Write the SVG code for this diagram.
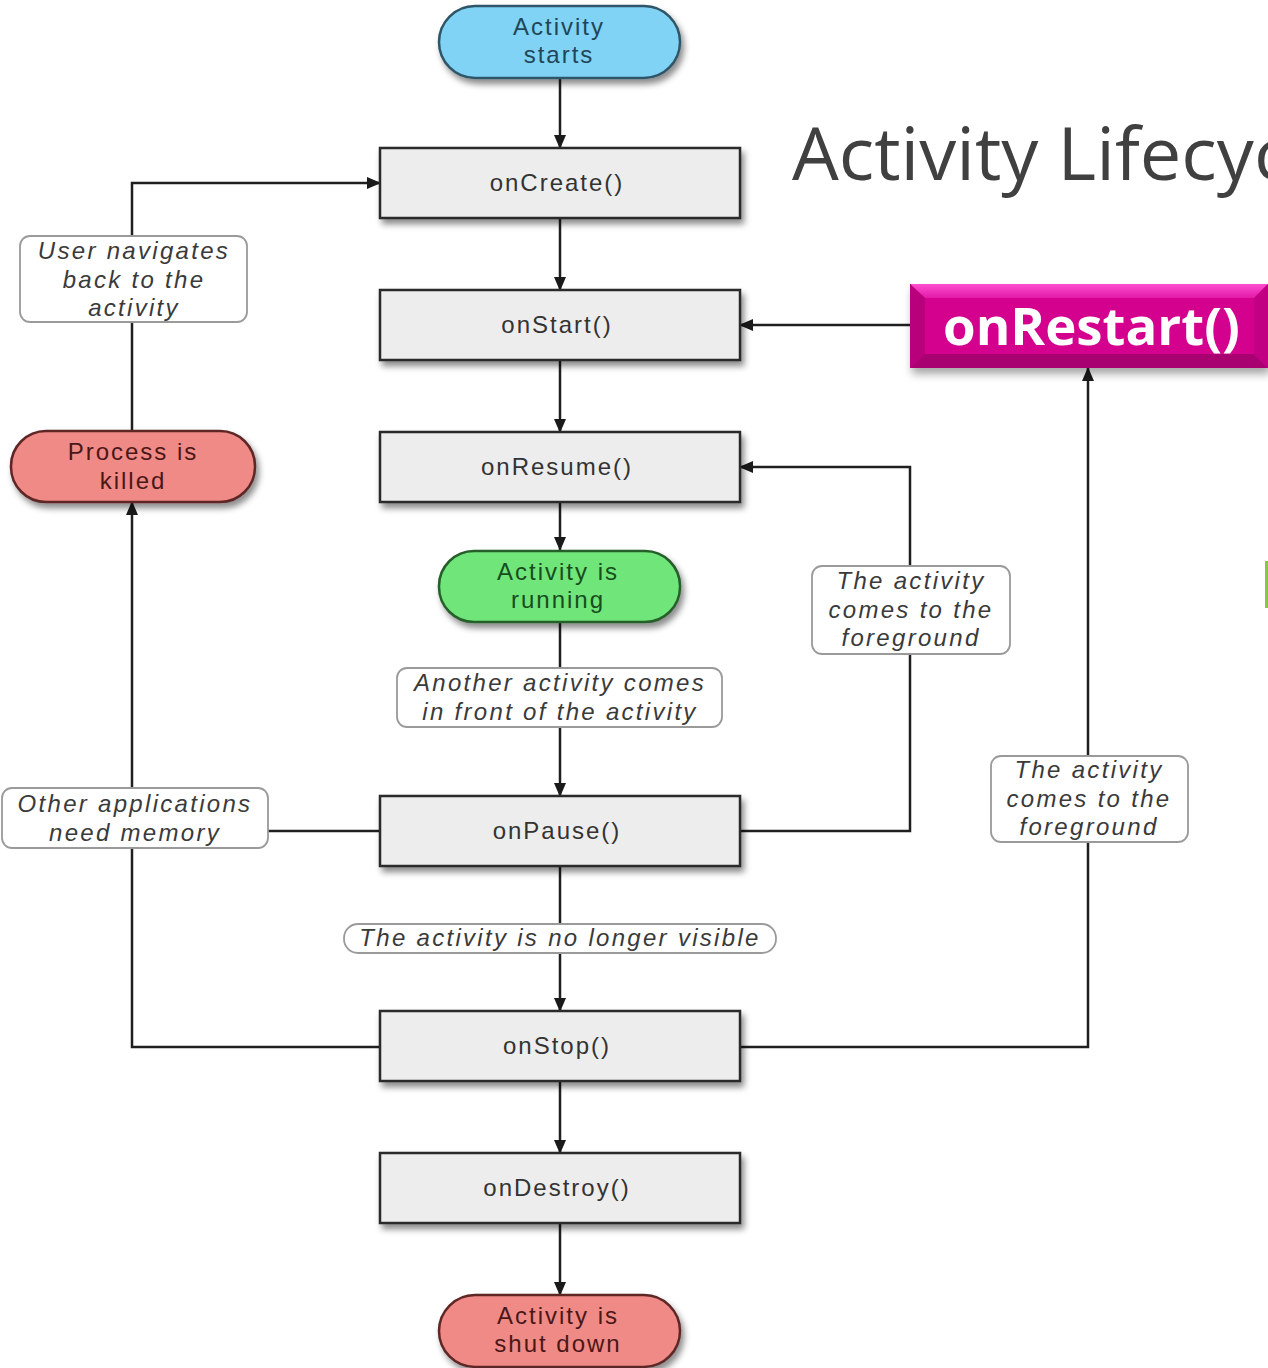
<svg xmlns="http://www.w3.org/2000/svg" width="1268" height="1368" viewBox="0 0 1268 1368">
  <defs>
    <filter id="shadow" x="-10%" y="-20%" width="125%" height="160%">
      <feDropShadow dx="3" dy="5" stdDeviation="3" flood-color="#000" flood-opacity="0.45"/>
    </filter>
    <filter id="softshadow" x="-10%" y="-20%" width="125%" height="160%">
      <feDropShadow dx="2" dy="6" stdDeviation="4" flood-color="#000" flood-opacity="0.35"/>
    </filter>
    <marker id="arrow" markerUnits="userSpaceOnUse" markerWidth="14" markerHeight="12" refX="13" refY="6" orient="auto">
      <path d="M0,0 L14,6 L0,12 z" fill="#1a1a1a"/>
    </marker>
    <linearGradient id="restartTop" x1="0" y1="0" x2="0" y2="1">
      <stop offset="0" stop-color="#ff4fd0"/>
      <stop offset="1" stop-color="#e21aa8"/>
    </linearGradient>
  </defs>
  <style>
    .box { fill: #ededed; stroke: #2b2b2b; stroke-width: 2.5; }
    .pill { stroke-width: 2.5; }
    .note { fill: #ffffff; stroke: #9a9a9a; stroke-width: 1.8; }
    .wire { fill: none; stroke: #1f1f1f; stroke-width: 2.5; }
    .t { font-family: "Liberation Sans", Arial, sans-serif; font-size: 24px; letter-spacing: 2px; text-anchor: middle; }
    .method { fill: #333333; }
    .it { font-style: italic; fill: #3a3a3a; letter-spacing: 2.3px; }
  </style>

  <rect width="1268" height="1368" fill="#ffffff"/>

  <!-- title -->
  <text x="792" y="180" font-family="'Open Sans', 'Noto Sans', sans-serif" font-size="74" fill="#404040">Activity Lifecycle</text>

  <!-- accent bar at right edge -->
  <rect x="1265" y="561" width="3" height="47" fill="#8dc63f"/>

  <!-- connectors -->
  <g id="connectors">
    <path class="wire" d="M560 78 V148" marker-end="url(#arrow)"/>
    <path class="wire" d="M560 218 V290" marker-end="url(#arrow)"/>
    <path class="wire" d="M560 360 V432" marker-end="url(#arrow)"/>
    <path class="wire" d="M560 502 V550" marker-end="url(#arrow)"/>
    <path class="wire" d="M560 622 V796" marker-end="url(#arrow)"/>
    <path class="wire" d="M560 866 V1011" marker-end="url(#arrow)"/>
    <path class="wire" d="M560 1081 V1153" marker-end="url(#arrow)"/>
    <path class="wire" d="M560 1223 V1295" marker-end="url(#arrow)"/>
    <!-- left side: memory pressure kills the process -->
    <path class="wire" d="M380 1047 H132 V502" marker-end="url(#arrow)"/>
    <path class="wire" d="M380 831 H132"/>
    <path class="wire" d="M132 430 V183 H380" marker-end="url(#arrow)"/>
    <!-- right side: back to foreground -->
    <path class="wire" d="M740 831 H910 V467 H740" marker-end="url(#arrow)"/>
    <path class="wire" d="M740 1047 H1088 V368" marker-end="url(#arrow)"/>
    <path class="wire" d="M910 325 H740" marker-end="url(#arrow)"/>
  </g>

  <!-- state pills -->
  <g id="activity-starts">
    <rect class="pill" x="439" y="6" width="241" height="72" rx="36" fill="#80d3f5" stroke="#2e5567" filter="url(#shadow)"/>
    <text class="t" x="559" y="35" fill="#1f4657">Activity</text>
    <text class="t" x="559" y="63" fill="#1f4657">starts</text>
  </g>

  <g id="process-killed">
    <rect class="pill" x="11" y="431" width="244" height="71" rx="35" fill="#f08a86" stroke="#5e2626" filter="url(#shadow)"/>
    <text class="t" x="133" y="460" fill="#4a1717">Process is</text>
    <text class="t" x="133" y="489" fill="#4a1717">killed</text>
  </g>

  <g id="activity-running">
    <rect class="pill" x="439" y="551" width="241" height="71" rx="35" fill="#6fe57a" stroke="#265e2b" filter="url(#shadow)"/>
    <text class="t" x="558" y="580" fill="#174d1c">Activity is</text>
    <text class="t" x="558" y="608" fill="#174d1c">running</text>
  </g>

  <g id="activity-shut-down">
    <rect class="pill" x="439" y="1295" width="241" height="72" rx="36" fill="#f08a86" stroke="#5e2626" filter="url(#shadow)"/>
    <text class="t" x="558" y="1324" fill="#4a1717">Activity is</text>
    <text class="t" x="558" y="1352" fill="#4a1717">shut down</text>
  </g>

  <!-- lifecycle callbacks -->
  <g id="on-create">
    <rect class="box" x="380" y="148" width="360" height="70" filter="url(#shadow)"/>
    <text class="t method" x="557" y="191">onCreate()</text>
  </g>
  <g id="on-start">
    <rect class="box" x="380" y="290" width="360" height="70" filter="url(#shadow)"/>
    <text class="t method" x="557" y="333">onStart()</text>
  </g>
  <g id="on-resume">
    <rect class="box" x="380" y="432" width="360" height="70" filter="url(#shadow)"/>
    <text class="t method" x="557" y="475">onResume()</text>
  </g>
  <g id="on-pause">
    <rect class="box" x="380" y="796" width="360" height="70" filter="url(#shadow)"/>
    <text class="t method" x="557" y="839">onPause()</text>
  </g>
  <g id="on-stop">
    <rect class="box" x="380" y="1011" width="360" height="70" filter="url(#shadow)"/>
    <text class="t method" x="557" y="1054">onStop()</text>
  </g>
  <g id="on-destroy">
    <rect class="box" x="380" y="1153" width="360" height="70" filter="url(#shadow)"/>
    <text class="t method" x="557" y="1196">onDestroy()</text>
  </g>

  <!-- highlighted restart callback -->
  <g id="on-restart" filter="url(#softshadow)">
    <rect x="910" y="284" width="358" height="84" fill="#d4008e"/>
    <polygon points="910,284 1268,284 1254,298 925,298" fill="url(#restartTop)"/>
    <polygon points="910,284 925,298 925,354 910,368" fill="#b8007c"/>
    <polygon points="910,368 925,354 1254,354 1268,368" fill="#a8006f"/>
    <polygon points="1268,284 1254,298 1254,354 1268,368" fill="#c20083"/>
    <text x="943" y="345" font-family="'Open Sans', 'Noto Sans', sans-serif" font-weight="700" font-size="52" fill="#ffffff" textLength="297" lengthAdjust="spacingAndGlyphs">onRestart()</text>
  </g>

  <!-- transition notes -->
  <g id="note-user-navigates">
    <rect class="note" x="20" y="236" width="227" height="86" rx="10"/>
    <text class="t it" x="134" y="259">User navigates</text>
    <text class="t it" x="134" y="288">back to the</text>
    <text class="t it" x="134" y="316">activity</text>
  </g>
  <g id="note-other-apps">
    <rect class="note" x="2" y="788" width="266" height="60" rx="10"/>
    <text class="t it" x="135" y="812">Other applications</text>
    <text class="t it" x="135" y="841">need memory</text>
  </g>
  <g id="note-another-activity">
    <rect class="note" x="397" y="668" width="325" height="59" rx="10"/>
    <text class="t it" x="560" y="691">Another activity comes</text>
    <text class="t it" x="560" y="720">in front of the activity</text>
  </g>
  <g id="note-no-longer-visible">
    <rect class="note" x="344" y="924" width="432" height="29" rx="14"/>
    <text class="t it" x="560" y="946">The activity is no longer visible</text>
  </g>
  <g id="note-foreground-resume">
    <rect class="note" x="812" y="566" width="198" height="88" rx="10"/>
    <text class="t it" x="911" y="589">The activity</text>
    <text class="t it" x="911" y="618">comes to the</text>
    <text class="t it" x="911" y="646">foreground</text>
  </g>
  <g id="note-foreground-restart">
    <rect class="note" x="991" y="756" width="197" height="86" rx="10"/>
    <text class="t it" x="1089" y="778">The activity</text>
    <text class="t it" x="1089" y="807">comes to the</text>
    <text class="t it" x="1089" y="835">foreground</text>
  </g>
</svg>
